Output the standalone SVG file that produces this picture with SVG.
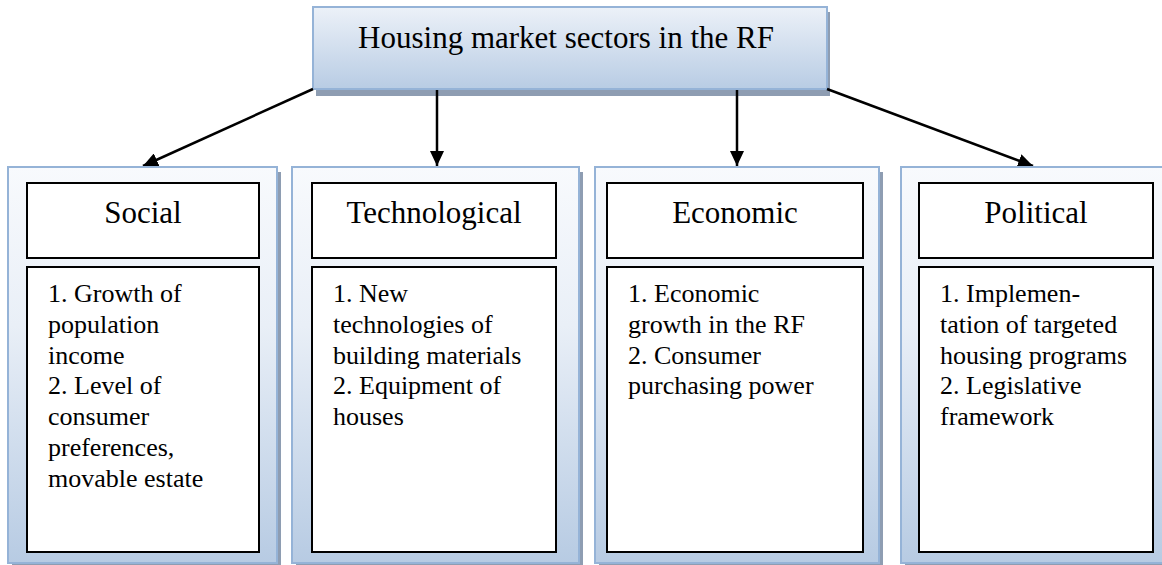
<svg xmlns="http://www.w3.org/2000/svg" width="1162" height="565" viewBox="0 0 1162 565">
<style>
.title{font-family:"Liberation Serif","Times New Roman",serif;font-size:31px;fill:#000;text-anchor:middle}
.body{font-family:"Liberation Serif","Times New Roman",serif;font-size:26px;fill:#000}
.panel{fill:url(#gPanel);stroke:#95b3d7;stroke-width:2}
.shadow{fill:#8e9db2}
.box{fill:#fff;stroke:#000;stroke-width:2}
.conn{stroke:#000;stroke-width:2.5;fill:none;marker-end:url(#arr)}
</style>
<defs>
<linearGradient id="gPanel" x1="0" y1="0" x2="0" y2="1">
<stop offset="0" stop-color="#f8fafd"/>
<stop offset="0.4" stop-color="#e9eff7"/>
<stop offset="1" stop-color="#b7cbe3"/>
</linearGradient>
<linearGradient id="gTop" x1="0" y1="0" x2="0" y2="1">
<stop offset="0" stop-color="#ecf1f8"/>
<stop offset="1" stop-color="#b8cce4"/>
</linearGradient>
<marker id="arr" markerUnits="userSpaceOnUse" markerWidth="15" markerHeight="14" refX="15" refY="7" orient="auto">
<path d="M0,0 L15,7 L0,14 z" fill="#000"/>
</marker>
</defs>
<rect width="1162" height="565" fill="#fff"/>

<g id="top">
<rect class="shadow" x="316" y="12" width="514" height="84"/>
<rect x="313" y="7" width="514" height="82" fill="url(#gTop)" stroke="#95b3d7" stroke-width="2"/>
<text class="title" x="566" y="48">Housing market sectors in the RF</text>
</g>

<g id="connectors">
<line class="conn" x1="313" y1="89" x2="143" y2="166"/>
<line class="conn" x1="437" y1="90" x2="437" y2="166"/>
<line class="conn" x1="737" y1="90" x2="737" y2="166"/>
<line class="conn" x1="827" y1="89" x2="1033" y2="166"/>
</g>

<g id="social">
<rect class="shadow" x="12" y="172" width="269" height="396"/>
<rect class="panel" x="8" y="167" width="269" height="396"/>
<rect class="box" x="27" y="183" width="232" height="75"/>
<text class="title" x="143" y="223">Social</text>
<rect class="box" x="27" y="267" width="232" height="285"/>
<text class="body" x="48" y="302">1. Growth of<tspan x="48" dy="30.8">population</tspan><tspan x="48" dy="30.8">income</tspan><tspan x="48" dy="30.8">2. Level of</tspan><tspan x="48" dy="30.8">consumer</tspan><tspan x="48" dy="30.8">preferences,</tspan><tspan x="48" dy="30.8">movable estate</tspan></text>
</g>

<g id="technological">
<rect class="shadow" x="296" y="172" width="287" height="396"/>
<rect class="panel" x="292" y="167" width="287" height="396"/>
<rect class="box" x="312" y="183" width="244" height="75"/>
<text class="title" x="434" y="223">Technological</text>
<rect class="box" x="312" y="267" width="244" height="285"/>
<text class="body" x="333" y="302">1. New<tspan x="333" dy="30.8">technologies of</tspan><tspan x="333" dy="30.8">building materials</tspan><tspan x="333" dy="30.8">2. Equipment of</tspan><tspan x="333" dy="30.8">houses</tspan></text>
</g>

<g id="economic">
<rect class="shadow" x="599" y="172" width="284" height="396"/>
<rect class="panel" x="595" y="167" width="284" height="396"/>
<rect class="box" x="607" y="183" width="256" height="75"/>
<text class="title" x="735" y="223">Economic</text>
<rect class="box" x="607" y="267" width="256" height="285"/>
<text class="body" x="628" y="302">1. Economic<tspan x="628" dy="30.8">growth in the RF</tspan><tspan x="628" dy="30.8">2. Consumer</tspan><tspan x="628" dy="30.8">purchasing power</tspan></text>
</g>

<g id="political">
<rect class="shadow" x="905" y="172" width="280" height="396"/>
<rect class="panel" x="901" y="167" width="280" height="396"/>
<rect class="box" x="919" y="183" width="234" height="75"/>
<text class="title" x="1036" y="223">Political</text>
<rect class="box" x="919" y="267" width="234" height="285"/>
<text class="body" x="940" y="302">1. Implemen-<tspan x="940" dy="30.8">tation of targeted</tspan><tspan x="940" dy="30.8">housing programs</tspan><tspan x="940" dy="30.8">2. Legislative</tspan><tspan x="940" dy="30.8">framework</tspan></text>
</g>
</svg>
